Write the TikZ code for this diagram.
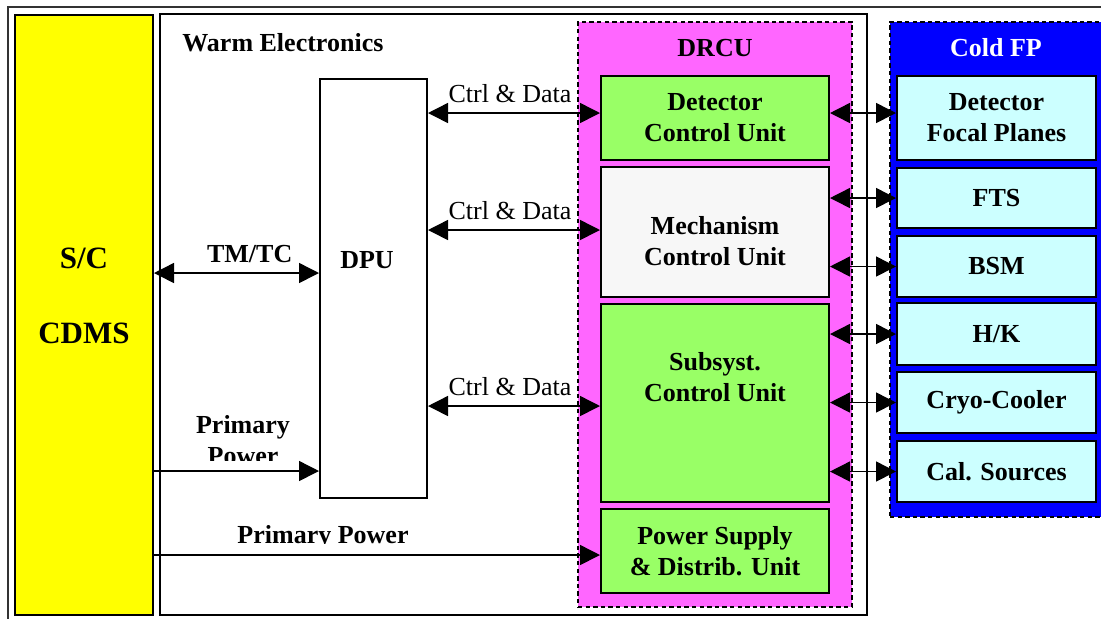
\documentclass[tikz,border=0pt]{standalone}
\usepackage{fontspec}
\setmainfont{Liberation Serif}
\usetikzlibrary{arrows.meta}

\definecolor{scyellow}{HTML}{FFFF00}
\definecolor{drcupink}{HTML}{FF66FF}
\definecolor{ctrlgreen}{HTML}{99FF66}
\definecolor{mechgrey}{HTML}{F7F7F7}
\definecolor{coldblue}{HTML}{0000FF}
\definecolor{fpcyan}{HTML}{CCFFFF}

\newcommand{\figfont}{\fontsize{13}{15.5}\selectfont}
\newcommand{\bigfigfont}{\fontsize{15.5}{18}\selectfont}

\tikzset{
  unit/.style={draw, line width=1pt, font=\figfont\bfseries, align=center, inner sep=0pt},
  lbl/.style={font=\figfont\bfseries, align=center, inner sep=0pt},
  group/.style={draw, dash pattern=on 2.2pt off 1.6pt, line width=0.8pt, inner sep=0pt},
  link/.style={line width=0.75pt, -{Triangle[length=10pt,width=10pt]}},
  dlink/.style={line width=0.75pt, {Triangle[length=10pt,width=10pt]}-{Triangle[length=10pt,width=10pt]}},
  tag/.style={inner sep=0pt, above=5pt},
}

\begin{document}
\begin{tikzpicture}[x=0.5pt, y=-0.5pt, font=\figfont]
  \useasboundingbox (0,0) rectangle (1101,618);
  % Outer frame (runs off the page on the right and bottom).
  \draw[line width=0.75pt, black!80] (8,7) rectangle (1130,640);
  % Warm electronics enclosure.
  \node[unit, fill=white, line width=0.8pt, minimum width=353.5pt, minimum height=300.5pt] (warm) at (513.5,314.5) {};
  \node[lbl, anchor=west] (warmtitle) at (182,43) {Warm Electronics};
  % Spacecraft side.
  \node[unit, fill=scyellow, minimum width=69pt, minimum height=300pt] (sc) at (84,315) {};
  \node[lbl, font=\bigfigfont\bfseries] (sctop) at (84,258) {S/C};
  \node[lbl, font=\bigfigfont\bfseries] (scbot) at (84,333) {CDMS};
  % DPU.
  \node[unit, fill=white, minimum width=53.5pt, minimum height=209.5pt] (dpu) at (373.5,288.5) {};
  \node[lbl] (dputext) at (367,260) {DPU};
  % DRCU and its units.
  \node[group, fill=drcupink, minimum width=137pt, minimum height=292.5pt] (drcu) at (715,314.5) {};
  \node[lbl] (drcutitle) at (715,48) {DRCU};
  \node[unit, fill=ctrlgreen, minimum width=114pt, minimum height=42pt] (dcu) at (715,118) {Detector\\Control Unit};
  \node[unit, fill=mechgrey, minimum width=114pt, minimum height=65pt] (mcu) at (715,232) {};
  \node[lbl] (mcutext) at (715,241) {Mechanism\\Control Unit};
  \node[unit, fill=ctrlgreen, minimum width=114pt, minimum height=99pt] (scu) at (715,403) {};
  \node[lbl] (scutext) at (715,377) {Subsyst.\\Control Unit};
  \node[unit, fill=ctrlgreen, minimum width=114pt, minimum height=42pt] (psdu) at (715,551) {Power Supply\\\& Distrib. Unit};
  % Cold focal plane.
  \node[group, fill=coldblue, minimum width=111pt, minimum height=247.5pt] (coldfp) at (1001,269.5) {};
  \node[lbl, text=white] (coldtitle) at (996,48) {Cold FP};
  \node[unit, fill=fpcyan, minimum width=99.5pt, minimum height=42pt] (dfp) at (996.5,118) {Detector\\Focal Planes};
  \node[unit, fill=fpcyan, minimum width=99.5pt, minimum height=30pt] (fts) at (996.5,198) {FTS};
  \node[unit, fill=fpcyan, minimum width=99.5pt, minimum height=30.5pt] (bsm) at (996.5,266.5) {BSM};
  \node[unit, fill=fpcyan, minimum width=99.5pt, minimum height=31pt] (hk) at (996.5,334) {H/K};
  \node[unit, fill=fpcyan, minimum width=99.5pt, minimum height=30.5pt] (cryo) at (996.5,402.5) {Cryo-Cooler};
  \node[unit, fill=fpcyan, minimum width=99.5pt, minimum height=30.5pt] (cal) at (996.5,471.5) {Cal. Sources};
  % S/C <-> DPU.
  \draw[dlink] (sc.east |- 0,273) -- node[tag, lbl, pos=0.58] {TM/TC} (dpu.west |- 0,273);
  \draw[link] (sc.east |- 0,471) -- (dpu.west |- 0,471);
  \draw[link] (sc.east |- 0,555) -- (psdu.west |- 0,555);
  % DPU <-> DRCU.
  \draw[dlink] (dpu.east |- 0,113) -- node[tag, xshift=-2pt] {Ctrl \& Data} (dcu.west |- 0,113);
  \draw[dlink] (dpu.east |- 0,230) -- node[tag, xshift=-2pt] {Ctrl \& Data} (mcu.west |- 0,230);
  \draw[dlink] (dpu.east |- 0,406) -- node[tag, xshift=-2pt] {Ctrl \& Data} (scu.west |- 0,406);
  % DRCU <-> Cold FP.
  \draw[dlink] ([yshift=2.5pt]dcu.east) -- ([yshift=2.5pt]dfp.west);
  \draw[dlink] (fts.west -| mcu.east) -- (fts.west);
  \draw[dlink] (bsm.west -| mcu.east) -- (bsm.west);
  \draw[dlink] (hk.west -| scu.east) -- (hk.west);
  \draw[dlink] (cryo.west -| scu.east) -- (cryo.west);
  \draw[dlink] (cal.west -| scu.east) -- (cal.west);
  % Power labels, cut off at the bottom as in the original.
  \begin{scope}
    \clip (160,395) rectangle (330,460);
    \node[lbl] (pwrdpu) at (243,440) {Primary\\Power};
  \end{scope}
  \begin{scope}
    \clip (160,505) rectangle (590,543);
    \node[lbl, anchor=base] (pwrdrcu) at (323,543) {Primary Power};
  \end{scope}
\end{tikzpicture}
\end{document}
